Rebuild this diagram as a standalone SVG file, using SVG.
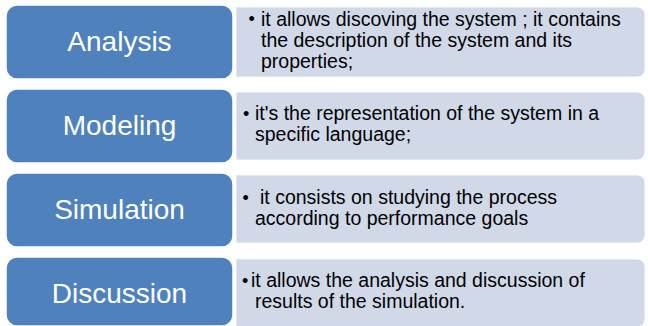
<svg xmlns="http://www.w3.org/2000/svg" width="648" height="326" viewBox="0 0 648 326">
<style>
.hd{fill:#4F81BD;stroke:#FFFFFF;stroke-width:1.5}
.bx{fill:#D1D9E8;stroke:#FFFFFF;stroke-opacity:0.7;stroke-width:1}
.lbl{font-family:"Liberation Sans",Arial,sans-serif;font-size:28px;fill:#FFFFFF;text-anchor:middle}
.txt{font-family:"Liberation Sans",Arial,sans-serif;font-size:19.5px;fill:#000000}
.bul{font-size:18px}
</style>
<rect width="648" height="326" fill="#FFFFFF"/>
<g id="analysis-text">
<path class="bx" d="M236,7 H637 A8,8 0 0 1 645,15 V69 A8,8 0 0 1 637,77 H236 Z"/>
<text class="txt"><tspan class="bul" x="248.5" y="25">•</tspan><tspan x="261" y="25.5">it allows discoving the system ; it contains</tspan><tspan x="261" y="46.5">the description of the system and its</tspan><tspan x="261" y="67.5">properties;</tspan></text>
</g>
<g id="analysis">
<rect class="hd" x="6" y="5" width="227" height="74" rx="11"/>
<text class="lbl" x="119.5" y="51">Analysis</text>
</g>
<g id="modeling-text">
<path class="bx" d="M236,92 H637 A8,8 0 0 1 645,100 V152 A8,8 0 0 1 637,160 H236 Z"/>
<text class="txt"><tspan class="bul" x="243" y="119.5">•</tspan><tspan x="255" y="120">it's the representation of the system in a</tspan><tspan x="255" y="141">specific language;</tspan></text>
</g>
<g id="modeling">
<rect class="hd" x="6" y="89" width="227" height="74" rx="11"/>
<text class="lbl" x="119.5" y="135">Modeling</text>
</g>
<g id="simulation-text">
<path class="bx" d="M236,175 H637 A8,8 0 0 1 645,183 V235 A8,8 0 0 1 637,243 H236 Z"/>
<text class="txt"><tspan class="bul" x="242.5" y="203.5">•</tspan><tspan x="260" y="204">it consists on studying the process</tspan><tspan x="255" y="225">according to performance goals</tspan></text>
</g>
<g id="simulation">
<rect class="hd" x="6" y="173" width="227" height="74" rx="11"/>
<text class="lbl" x="119.5" y="219">Simulation</text>
</g>
<g id="discussion-text">
<path class="bx" d="M236,259 H637 A8,8 0 0 1 645,267 V319 A8,8 0 0 1 637,327 H236 Z"/>
<text class="txt"><tspan class="bul" x="242" y="286.5">•</tspan><tspan x="251" y="287">it allows the analysis and discussion of</tspan><tspan x="255" y="308">results of the simulation.</tspan></text>
</g>
<g id="discussion">
<rect class="hd" x="6" y="257" width="227" height="69" rx="11"/>
<text class="lbl" x="119.5" y="303">Discussion</text>
</g>
</svg>
